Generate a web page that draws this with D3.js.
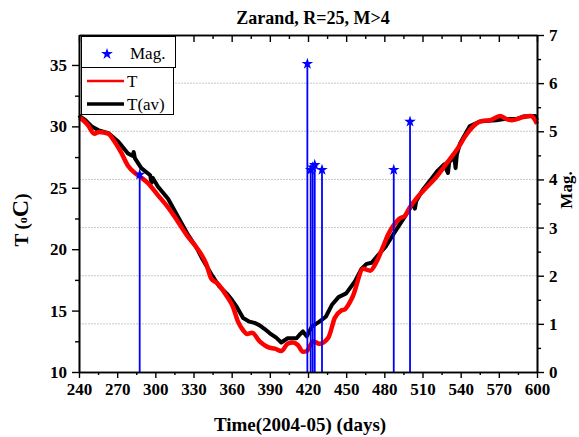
<!DOCTYPE html>
<html>
<meta charset="utf-8" />
<head>
<title>Zarand, R=25, M>4</title>
<script src="https://cdn.jsdelivr.net/npm/d3@7"></script>
<style>
  body { margin: 0; background: #fff; }
  text { font-family: "Liberation Serif", "Times New Roman", serif; }
</style>
<script>
// T (red)
let tDays = [240, 241.3, 247, 252, 256, 263, 268, 273, 278.5, 284, 288, 294, 302, 310, 318, 325, 332, 336, 340, 344, 349, 356, 361, 365, 369, 372, 376, 382, 389, 394, 399, 404, 408, 412, 416, 419, 422, 424, 429, 436, 441, 446, 449, 455, 463.5, 469, 474, 479, 483, 487, 492, 496, 500, 505, 511, 521, 529, 537, 545, 552, 557, 563, 571, 576, 580, 589, 595, 598, 600];
let tVals = [30.7, 30.65, 30.1, 29.4, 29.55, 29.4, 28.75, 27.9, 26.8, 26.2, 25.9, 25.4, 24.4, 23.4, 22.2, 21.1, 20.2, 19.6, 18.8, 17.6, 17.2, 16.2, 15.3, 14.1, 13.4, 13.1, 13.2, 12.5, 12.0, 11.9, 11.7, 12.3, 12.4, 12.2, 11.65, 11.7, 12.2, 12.5, 12.3, 12.8, 14.4, 15.0, 15.1, 16.1, 18.4, 18.25, 19.0, 20.2, 21.2, 21.9, 22.5, 22.7, 23.4, 24.1, 24.8, 25.9, 27.0, 28.1, 29.4, 30.2, 30.45, 30.5, 30.85, 30.6, 30.5, 30.75, 30.85, 30.6, 30.2];

// T(av) (black)
let avDays = [240, 241, 245, 250, 255, 263, 271, 278.5, 282, 283, 284, 289, 295, 296, 297, 298, 302, 310, 318, 325, 333, 337, 345, 350, 356, 360, 364, 369, 374, 378, 382, 386, 390, 395, 399, 404, 411, 414, 416, 419, 423, 429, 434, 439, 444, 450, 457, 462, 466, 470, 475, 481, 487, 492, 497, 503, 504, 505, 510, 516, 522, 527, 530, 531, 535, 536, 537, 539.5, 547, 555, 562, 568, 574, 579, 584, 589, 595, 598.5, 600];
let avVals = [30.9, 30.8, 30.5, 30.0, 29.7, 29.45, 28.75, 27.8, 27.6, 27.9, 27.4, 26.6, 26.1, 26.0, 25.4, 25.8, 25.1, 24.1, 22.6, 21.3, 20.0, 19.2, 17.8, 17.0, 16.4, 15.9, 15.3, 14.4, 14.1, 14.0, 13.8, 13.5, 13.15, 12.8, 12.4, 12.75, 12.75, 13.1, 13.3, 12.9, 13.7, 14.1, 14.5, 15.5, 16.1, 16.4, 17.4, 18.4, 18.8, 18.9, 19.5, 20.2, 21.2, 22.0, 22.8, 23.8, 23.3, 23.9, 24.8, 25.6, 26.4, 26.9, 26.2, 27.1, 27.5, 26.6, 27.7, 28.6, 30.0, 30.4, 30.45, 30.5, 30.6, 30.6, 30.6, 30.8, 30.85, 30.85, 30.5];

// earthquakes M>4
let magDays = [287.7, 419.5, 422.1, 423.7, 425.3, 431, 487.4, 500.2];
let magVals = [4.1, 6.4, 4.2, 4.25, 4.3, 4.2, 4.2, 5.2];

let xTicks = [240, 270, 300, 330, 360, 390, 420, 450, 480, 510, 540, 570, 600];
let tTicks = [10, 15, 20, 25, 30, 35];
let magTicks = [0, 1, 2, 3, 4, 5, 6, 7];

window.onload = function() {
	let W = 579, H = 437;
	let left = 79, right = 537, top = 35, bottom = 372;

	let svg = d3.select('body').append('svg')
		.attr('width', W).attr('height', H);

	let x = d3.scaleLinear().domain([240, 600]).range([left, right]);
	let yT = d3.scaleLinear().domain([10, 37.44]).range([bottom, top]);
	let yM = d3.scaleLinear().domain([0, 7]).range([bottom, top]);

	// grid at the Mag ticks
	svg.append('g').selectAll('line')
		.data(magTicks.slice(1, 7))
		.enter().append('line')
		.attr('x1', left).attr('x2', right)
		.attr('y1', d => yM(d)).attr('y2', d => yM(d))
		.style('stroke', '#c8c8c8').style('stroke-width', 1)
		.style('stroke-dasharray', '2,1');

	// curves
	let avData = avDays.map((d, i) => [d, avVals[i]]);
	let tData = tDays.map((d, i) => [d, tVals[i]]);

	svg.append('path').datum(avData)
		.attr('d', d3.line().x(d => x(d[0])).y(d => yT(d[1])))
		.style('fill', 'none').style('stroke', '#000').style('stroke-width', 4)
		.style('stroke-linejoin', 'round');

	svg.append('path').datum(tData)
		.attr('d', d3.line().curve(d3.curveMonotoneX).x(d => x(d[0])).y(d => yT(d[1])))
		.style('fill', 'none').style('stroke', '#ff0000').style('stroke-width', 4.5)
		.style('stroke-linejoin', 'round');

	// magnitude stems
	let mags = magDays.map((d, i) => [d, magVals[i]]);
	svg.append('g').selectAll('line')
		.data(mags).enter().append('line')
		.attr('x1', d => x(d[0])).attr('x2', d => x(d[0]))
		.attr('y1', yM(0)).attr('y2', d => yM(d[1]))
		.style('stroke', '#0000ff').style('stroke-width', 1.8);

	let star = d3.symbol().type(d3.symbolStar).size(42);
	svg.append('g').selectAll('path')
		.data(mags).enter().append('path')
		.attr('d', star)
		.attr('transform', d => 'translate(' + x(d[0]) + ',' + yM(d[1]) + ')')
		.style('fill', '#0000ff');

	// axes
	function style(g, labels) {
		g.selectAll('.domain').style('stroke', '#000').style('stroke-width', 1.6);
		g.selectAll('.tick line').style('stroke', '#000').style('stroke-width', 1.4);
		g.selectAll('text').style('font-family', '"Liberation Serif", serif')
			.style('font-weight', 'bold').style('font-size', '17px').style('fill', '#000');
		if (!labels) g.selectAll('text').remove();
	}

	let minorX = d3.range(255, 600, 30);
	let minorT = [12.5, 17.5, 22.5, 27.5, 32.5];
	let minorM = [0.5, 1.5, 2.5, 3.5, 4.5, 5.5, 6.5];

	svg.append('g').attr('transform', 'translate(0,' + bottom + ')')
		.call(d3.axisBottom(x).tickValues(minorX).tickSize(3).tickSizeOuter(0).tickFormat(''))
		.call(g => style(g, false));
	svg.append('g').attr('transform', 'translate(0,' + bottom + ')')
		.call(d3.axisBottom(x).tickValues(xTicks).tickSize(6).tickSizeOuter(0).tickPadding(5).tickFormat(d3.format('d')))
		.call(g => style(g, true));

	svg.append('g').attr('transform', 'translate(0,' + top + ')')
		.call(d3.axisBottom(x).tickValues(minorX).tickSize(4).tickSizeOuter(0).tickFormat(''))
		.call(g => style(g, false));
	svg.append('g').attr('transform', 'translate(0,' + top + ')')
		.call(d3.axisBottom(x).tickValues(xTicks).tickSize(7).tickSizeOuter(0).tickFormat(''))
		.call(g => style(g, false));

	svg.append('g').attr('transform', 'translate(' + left + ',0)')
		.call(d3.axisLeft(yT).tickValues(minorT).tickSize(4).tickSizeOuter(0).tickFormat(''))
		.call(g => style(g, false));
	svg.append('g').attr('transform', 'translate(' + left + ',0)')
		.call(d3.axisLeft(yT).tickValues(tTicks).tickSize(7).tickSizeOuter(0).tickPadding(5).tickFormat(d3.format('d')))
		.call(g => style(g, true));

	svg.append('g').attr('transform', 'translate(' + right + ',0)')
		.call(d3.axisRight(yM).tickValues(minorM).tickSize(4).tickSizeOuter(0).tickFormat(''))
		.call(g => style(g, false));
	svg.append('g').attr('transform', 'translate(' + right + ',0)')
		.call(d3.axisRight(yM).tickValues(magTicks).tickSize(7).tickSizeOuter(0).tickPadding(5).tickFormat(d3.format('d')))
		.call(g => style(g, true));

	// titles
	svg.append('text').attr('x', 313).attr('y', 24).attr('text-anchor', 'middle')
		.style('font-weight', 'bold').style('font-size', '18px')
		.text('Zarand, R=25, M>4');

	svg.append('text').attr('x', 300).attr('y', 431).attr('text-anchor', 'middle')
		.style('font-weight', 'bold').style('font-size', '19px')
		.text('Time(2004-05) (days)');

	let yl = svg.append('text').attr('transform', 'translate(28,220) rotate(-90)')
		.attr('text-anchor', 'middle')
		.style('font-weight', 'bold').style('font-size', '19px');
	yl.append('tspan').text('T (');
	yl.append('tspan').style('font-size', '12px').attr('dy', -1).text('o');
	yl.append('tspan').style('font-size', '24px').attr('dy', 1).text('C');
	yl.append('tspan').text(')');

	svg.append('text').attr('transform', 'translate(572,190) rotate(-90)')
		.attr('text-anchor', 'middle')
		.style('font-weight', 'bold').style('font-size', '17px')
		.text('Mag.');

	// legend
	let lg = svg.append('g');
	lg.append('rect').attr('x', 81.5).attr('y', 36.5).attr('width', 94).attr('height', 31)
		.style('fill', '#fff').style('stroke', '#000').style('stroke-width', 1);
	lg.append('rect').attr('x', 81.5).attr('y', 67.5).attr('width', 92).attr('height', 47)
		.style('fill', '#fff').style('stroke', '#000').style('stroke-width', 1);
	lg.append('path').attr('d', star).attr('transform', 'translate(107,54)').style('fill', '#0000ff');
	lg.append('text').attr('x', 130).attr('y', 59).style('font-size', '17px').text('Mag.');
	lg.append('line').attr('x1', 87).attr('x2', 124).attr('y1', 81).attr('y2', 81)
		.style('stroke', '#ff0000').style('stroke-width', 2.5);
	lg.append('text').attr('x', 127).attr('y', 87).style('font-size', '17px').text('T');
	lg.append('line').attr('x1', 87).attr('x2', 124).attr('y1', 104).attr('y2', 104)
		.style('stroke', '#000').style('stroke-width', 3.5);
	lg.append('text').attr('x', 127).attr('y', 110).style('font-size', '17px').text('T(av)');
}
</script>
</head>
<body>
</body>
</html>
